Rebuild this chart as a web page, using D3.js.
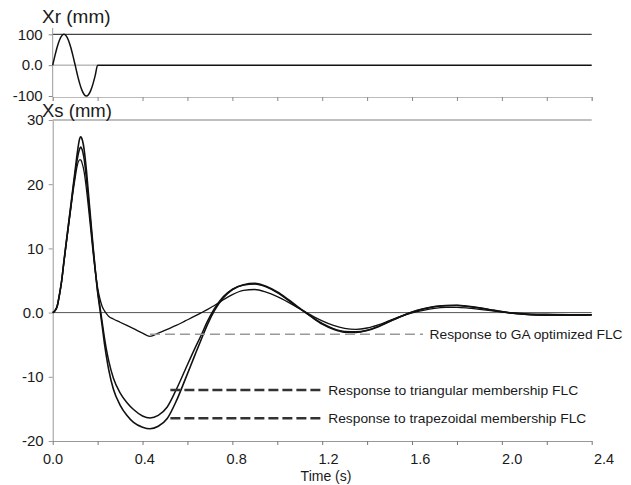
<!DOCTYPE html>
<html><head><meta charset="utf-8">
<script src="https://cdn.jsdelivr.net/npm/d3@7"></script>
<style>body{margin:0;background:#fff}svg{display:block}text{font-family:"Liberation Sans",Arial,Helvetica,sans-serif;fill:#1a1a1a}</style>
</head><body>
<script>
// ---------------- data ----------------
const timeS = [0,0.01,0.02,0.03,0.04,0.05,0.06,0.07,0.08,0.09,0.10,
  0.11,0.12,0.125,0.13,0.14,0.15,0.16,0.17,0.18,0.19,0.20,
  0.21,0.22,0.23,0.24,0.25,0.27,0.30,0.33,0.36,0.40,0.433,
  0.47,0.51,0.55,0.59,0.63,0.66,0.69,0.72,0.76,0.80,
  0.85,0.90,0.95,1.00,1.05,1.10,1.15,1.20,1.25,1.30,
  1.35,1.40,1.45,1.50,1.55,1.60,1.65,1.70,1.75,1.80,
  1.85,1.90,1.95,2.00,2.05,2.10,2.20,2.30,2.40];
const gaFLC = [0,0.3,1.0,2.7,4.9,7.8,10.6,13.3,16.0,18.7,21.0,
  23.0,23.8,23.8,23.4,21.9,19.3,16.1,12.7,9.3,6.3,3.9,
  2.2,1.0,0.3,-0.2,-0.6,-1.0,-1.5,-2.0,-2.5,-3.2,-3.7,
  -3.2,-2.6,-2.0,-1.3,-0.6,-0.05,0.5,1.1,2.0,2.8,
  3.45,3.6,3.2,2.5,1.6,0.6,-0.4,-1.3,-2.0,-2.45,
  -2.6,-2.4,-1.9,-1.25,-0.6,-0.05,0.35,0.65,0.8,0.82,
  0.7,0.5,0.3,0.1,-0.05,-0.15,-0.25,-0.3,-0.3];
const triFLC = [0,0.3,1.0,2.8,5.0,8.0,10.8,13.6,16.3,19.1,21.7,
  24.0,25.5,25.8,25.5,23.9,20.9,17.3,13.6,9.9,6.5,3.4,
  1.0,-1.4,-3.8,-5.9,-7.6,-10.2,-12.5,-14.0,-15.1,-16.1,-16.4,
  -16.0,-14.7,-12.0,-8.9,-5.8,-3.6,-1.3,0.6,2.5,3.6,
  4.3,4.45,4.0,3.1,1.9,0.6,-0.6,-1.7,-2.5,-2.95,
  -3.0,-2.75,-2.15,-1.35,-0.6,0.05,0.55,0.9,1.05,1.1,
  0.95,0.72,0.42,0.12,-0.1,-0.25,-0.38,-0.38,-0.33];
const trapFLC = [0,0.3,1.0,2.8,5.0,8.0,10.9,13.7,16.5,19.4,22.2,
  25.0,27.1,27.4,27.1,25.4,22.2,18.2,14.2,10.2,6.5,3.2,
  0.6,-2.0,-4.7,-7.0,-9.0,-11.9,-14.4,-16.0,-17.1,-17.85,-18.1,
  -17.7,-16.5,-13.8,-10.4,-6.9,-4.3,-1.8,0.3,2.3,3.6,
  4.35,4.55,4.1,3.2,2.0,0.7,-0.6,-1.8,-2.6,-3.05,
  -3.1,-2.8,-2.2,-1.4,-0.6,0.1,0.6,0.95,1.1,1.15,
  1.0,0.75,0.45,0.15,-0.1,-0.25,-0.4,-0.4,-0.35];
const timeR = [0,0.01,0.02,0.03,0.04,0.05,0.06,0.07,0.08,0.09,0.10,
  0.11,0.12,0.13,0.14,0.15,0.16,0.17,0.18,0.19,0.20,2.40];
const xrInput = [0,31,59,81,95,100,95,81,59,31,0,
  -31,-59,-81,-95,-100,-95,-81,-59,-31,0,0];
const xTickLabels = [0,0.4,0.8,1.2,1.6,2.0,2.4];
const ysTickLabels = [-20,-10,0,10,20,30];
const xrTickLabels = [-100,0,100];
const legendLabels = ["Response to GA optimized FLC","Response to triangular membership FLC","Response to trapezoidal membership FLC"];

// ---------------- layout ----------------
const W=631,H=485;
const svg=d3.select("body").append("svg").attr("width",W).attr("height",H);
const x=d3.scaleLinear([0,2.4],[52.7,591.7]);
const xLab=d3.scaleLinear([0,2.4],[53,604]);
const yR=d3.scaleLinear([-100,100],[96,34.3]);
const yS=d3.scaleLinear([-20,30],[441,120]);
const fmtX=v=>d3.format(".1f")(v);
const fmtY=v=>v===0?"0.0":String(v);
const axisCol="#999";

// ---------- top panel ----------
const topG=svg.append("g");
topG.append("line").attr("x1",x(0)).attr("x2",x(2.4)).attr("y1",yR(100)).attr("y2",yR(100)).attr("stroke","#444").attr("stroke-width",1.2);
topG.append("line").attr("x1",x(0)).attr("x2",x(0.2)).attr("y1",yR(0)).attr("y2",yR(0)).attr("stroke","#999").attr("stroke-width",1);
const gTopX=topG.append("g").attr("transform","translate(0,97)");
gTopX.call(d3.axisBottom(x).tickValues(d3.range(0,2.401,0.05)).tickSize(2).tickFormat(""));
gTopX.call(d3.axisBottom(x).tickValues(d3.range(0,2.401,0.2)).tickSize(4).tickFormat(""));
gTopX.selectAll("path.domain").attr("stroke","#bbb");
gTopX.selectAll(".tick line").attr("stroke","#888");
const gTopY=topG.append("g").attr("transform",`translate(${x(0)},0)`);
gTopY.call(d3.axisLeft(yR).tickValues(d3.range(-100,101,20)).tickSize(3).tickFormat("").tickSizeOuter(0));
gTopY.call(d3.axisLeft(yR).tickValues(xrTickLabels).tickSize(4).tickPadding(6).tickFormat(fmtY).tickSizeOuter(0));
gTopY.selectAll("path.domain").attr("stroke",axisCol).attr("d",`M0,28V97`);
gTopY.selectAll(".tick line").attr("stroke","#888");
gTopY.selectAll("text").attr("font-size",15).style("fill","#1a1a1a");
const lineR=d3.line().x((d,i)=>x(timeR[i])).y(d=>yR(d)).curve(d3.curveMonotoneX);
topG.append("path").attr("d",lineR(xrInput)).attr("fill","none").attr("stroke","#111").attr("stroke-width",1.5);
topG.append("text").attr("x",42).attr("y",23).attr("font-size",19).text("Xr (mm)");

// ---------- bottom panel ----------
const botG=svg.append("g");
botG.append("line").attr("x1",x(0)).attr("x2",x(2.4)).attr("y1",yS(30)).attr("y2",yS(30)).attr("stroke","#aaa").attr("stroke-width",1.5);
botG.append("line").attr("x1",x(0)).attr("x2",x(2.4)).attr("y1",yS(0)).attr("y2",yS(0)).attr("stroke","#555").attr("stroke-width",1);
const gY=botG.append("g").attr("transform",`translate(${x(0)},0)`);
gY.call(d3.axisLeft(yS).tickValues(d3.range(-20,31,1)).tickSize(2).tickFormat("").tickSizeOuter(0));
gY.call(d3.axisLeft(yS).tickValues(d3.range(-20,31,5)).tickSize(4).tickFormat("").tickSizeOuter(0));
gY.call(d3.axisLeft(yS).tickValues(ysTickLabels).tickSize(4).tickPadding(5).tickFormat(fmtY).tickSizeOuter(0));
gY.selectAll("path.domain").attr("stroke",axisCol);
gY.selectAll(".tick line").attr("stroke","#999");
gY.selectAll("text").attr("font-size",15).style("fill","#1a1a1a");
const gX=botG.append("g").attr("transform",`translate(0,${yS(-20)})`);
gX.call(d3.axisTop(x).tickValues(d3.range(0,2.401,0.05)).tickSize(3).tickFormat("").tickSizeOuter(0));
gX.call(d3.axisBottom(x).tickValues(d3.range(0,2.401,0.2)).tickSize(4).tickFormat("").tickSizeOuter(0));
gX.selectAll("path.domain").attr("stroke",axisCol);
gX.selectAll(".tick line").attr("stroke","#777");
botG.append("g").selectAll("text").data(xTickLabels).join("text")
  .attr("x",d=>xLab(d)).attr("y",464).attr("text-anchor","middle").attr("font-size",14.5).text(fmtX);
botG.append("text").attr("x",326).attr("y",480.5).attr("text-anchor","middle").attr("font-size",14).text("Time (s)");
botG.append("text").attr("x",42).attr("y",117).attr("font-size",18.5).text("Xs (mm)");

const lineS=d3.line().x((d,i)=>x(timeS[i])).y(d=>yS(d)).curve(d3.curveMonotoneX);
[[gaFLC,1.3],[triFLC,1.5],[trapFLC,1.6]].forEach(([s,w])=>{
  botG.append("path").attr("d",lineS(s)).attr("fill","none").attr("stroke","#111").attr("stroke-width",w);
});

const legendCfg=[
  {t0:0.433,t1:1.649,v:-3.38,col:"#999",w:1.6,dash:"10,5",len:193},
  {t0:0.524,t1:1.198,v:-12.06,col:"#333",w:2.6,dash:"10,4",len:250},
  {t0:0.524,t1:1.198,v:-16.46,col:"#333",w:2.6,dash:"10,4",len:258}
];
legendCfg.forEach((c,i)=>{
  botG.append("line").attr("x1",x(c.t0)).attr("x2",x(c.t1)).attr("y1",yS(c.v)).attr("y2",yS(c.v))
    .attr("stroke",c.col).attr("stroke-width",c.w).attr("stroke-dasharray",c.dash);
  botG.append("text").attr("x",x(c.t1)+6.5).attr("y",yS(c.v)+4.8).attr("font-size",13.5)
    .attr("textLength",c.len).attr("lengthAdjust","spacingAndGlyphs").text(legendLabels[i]);
});
</script>
</body></html>
